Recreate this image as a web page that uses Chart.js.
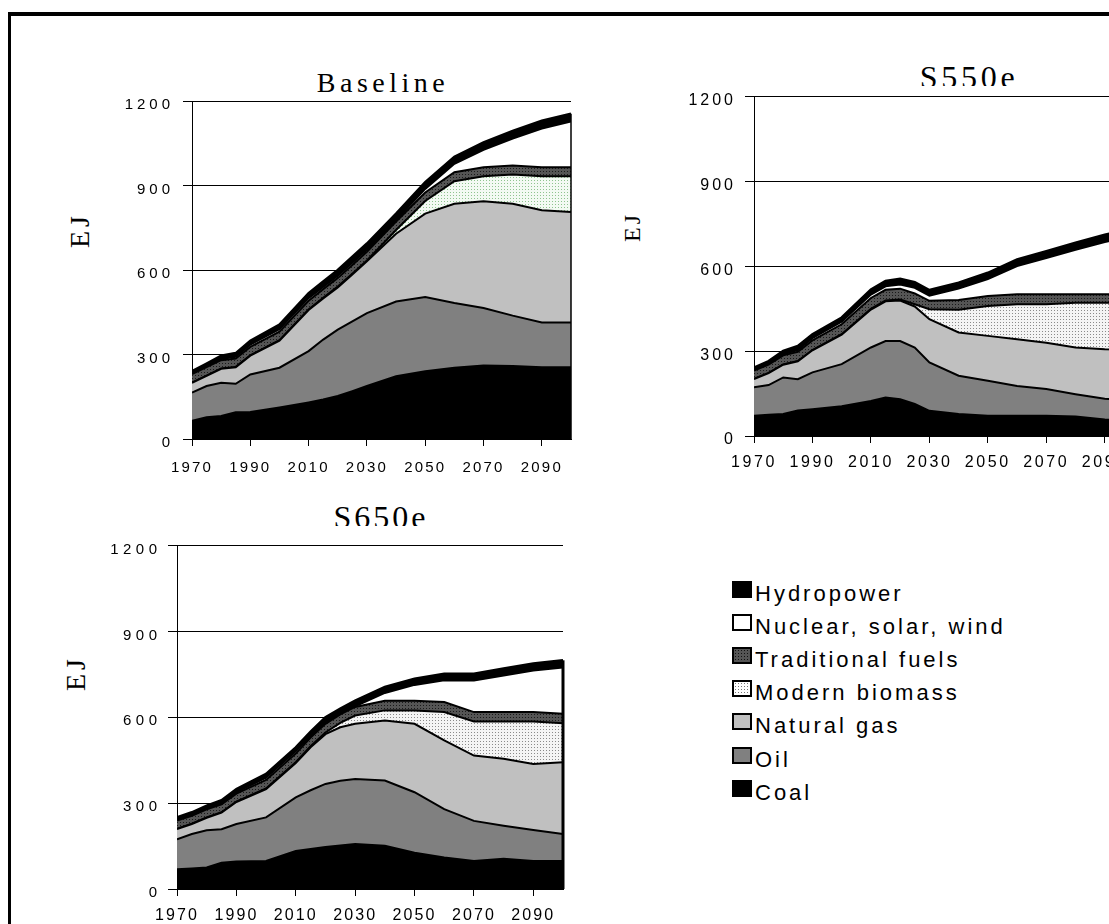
<!DOCTYPE html>
<html>
<head>
<meta charset="utf-8">
<title>Primary energy by source – Baseline, S550e, S650e</title>
<script src="https://cdn.jsdelivr.net/npm/chart.js@4.4.1/dist/chart.umd.min.js"></script>
<style>
  html, body { margin: 0; padding: 0; background: #fff; width: 1109px; height: 924px; overflow: hidden; }
  body { position: relative; font-family: 'Liberation Sans', Arial, sans-serif; color: #000; }
  .frame { position: absolute; left: 8px; top: 12px; width: 1300px; height: 1100px;
           border-left: 3px solid #000; border-top: 4px solid #000; }
  .box { position: absolute; }
  .ttl { position: absolute; font-family: 'Liberation Serif', 'Times New Roman', serif; line-height: 1;
         white-space: nowrap; transform: translateX(-50%); overflow: hidden; }
  .ej { position: absolute; font-family: 'Liberation Serif', 'Times New Roman', serif; line-height: 1;
        white-space: nowrap; transform: translate(-50%, -50%) rotate(-90deg); }
  .row { position: absolute; left: 732px; height: 22px; white-space: nowrap; }
  .sq { position: absolute; left: 0; top: -2px; width: 20px; height: 17px; box-sizing: border-box; border: 2px solid #000; }
  .lbl { position: absolute; left: 23px; top: 0; font-size: 22px; line-height: 22px; letter-spacing: 3px; }
  .hydro { background: #000; }
  .nuc { background: #fff; }
  .trad { background-color: #555; background-image: radial-gradient(#111 35%, transparent 40%); background-size: 3px 3px; }
  .bio { background-color: #fff; background-image: radial-gradient(#777 35%, transparent 40%); background-size: 3px 3px; }
  .gas { background: #c0c0c0; }
  .oil { background: #808080; }
  .coal { background: #000; }
</style>
</head>
<body>
<div class="frame"></div>

<div class="ttl" style="left:383px; top:69px; font-size:28px; letter-spacing:4.5px;">Baseline</div>
<div class="ttl" style="left:969px; top:61px; height:25px; font-size:32px; letter-spacing:3.75px;">S550e</div>
<div class="ttl" style="left:381px; top:501px; height:25px; font-size:32px; letter-spacing:3px;">S650e</div>

<div class="ej" style="left:80px; top:230px; font-size:28px; letter-spacing:4px;">EJ</div>
<div class="ej" style="left:632px; top:227px; font-size:24px; letter-spacing:3px;">EJ</div>
<div class="ej" style="left:76px; top:673px; font-size:28px; letter-spacing:4px;">EJ</div>

<div class="box" style="left:92px; top:83px; width:489px; height:396px;"><canvas id="base"></canvas></div>
<div class="box" style="left:654px; top:78px; width:490px; height:398px;"><canvas id="s550"></canvas></div>
<div class="box" style="left:77px; top:530px; width:496px; height:399px;"><canvas id="s650"></canvas></div>

<div id="legend"></div>

<script>
// ── data (EJ per source) ──────────────────────────────────────────────────
const years  = [1970, 1975, 1980, 1985, 1990, 2000, 2010, 2015, 2020, 2025, 2030, 2040, 2050, 2060, 2070, 2080, 2090, 2100];
const xTicks = [1970, 1990, 2010, 2030, 2050, 2070, 2090];
const yTicks = [0, 300, 600, 900, 1200];
const fuels  = ['Coal', 'Oil', 'Natural gas', 'Modern biomass', 'Traditional fuels', 'Nuclear, solar, wind', 'Hydropower'];

const baseCoal  = [65, 77, 82, 95, 96, 112, 130, 140, 153, 170, 188, 223, 241, 253, 261, 259, 255, 255];
const baseOil   = [100, 111, 118, 101, 133, 141, 182, 213, 235, 248, 259, 265, 263, 230, 204, 179, 159, 159];
const baseGas   = [34, 36, 49, 59, 67, 96, 146, 146, 150, 166, 184, 241, 296, 352, 379, 397, 398, 392];
const baseBio   = [1, 1, 1, 1, 1, 2, 2, 2, 3, 3, 3, 13, 45, 80, 89, 104, 121, 127];
const baseTrad  = [30, 30, 30, 30, 30, 30, 31, 31, 31, 31, 31, 30, 30, 32, 32, 32, 32, 32];
const baseNuc   = [1, 2, 4, 6, 8, 9, 9, 8, 8, 8, 7, 5, 13, 30, 62, 96, 137, 162];
const baseHydro = [10, 11, 12, 13, 14, 16, 18, 19, 20, 21, 22, 23, 24, 25, 26, 27, 28, 28];

const s550Coal  = [72, 75, 78, 90, 95, 105, 124, 136, 130, 113, 89, 78, 72, 72, 72, 69, 58, 55];
const s550Oil   = [100, 105, 129, 111, 130, 149, 189, 200, 206, 200, 171, 135, 123, 105, 94, 79, 74, 70];
const s550Gas   = [29, 42, 45, 63, 78, 104, 134, 140, 143, 145, 153, 153, 159, 165, 164, 165, 175, 180];
const s550Bio   = [1, 1, 1, 1, 1, 2, 3, 3, 4, 8, 35, 80, 106, 124, 136, 158, 164, 166];
const s550Trad  = [29, 29, 32, 33, 34, 35, 38, 38, 38, 38, 30, 35, 35, 35, 35, 30, 30, 30];
const s550Nuc   = [1, 2, 4, 6, 8, 9, 12, 12, 15, 20, 18, 40, 60, 100, 128, 157, 185, 207];
const s550Hydro = [10, 11, 12, 14, 14, 15, 18, 19, 20, 20, 20, 21, 22, 23, 24, 25, 26, 27];

const s650Coal  = [69, 72, 75, 92, 96, 98, 133, 140, 147, 152, 157, 151, 127, 110, 98, 106, 98, 98];
const s650Oil   = [105, 120, 130, 117, 131, 152, 187, 205, 220, 226, 227, 228, 211, 169, 140, 115, 108, 94];
const s650Gas   = [35, 35, 44, 58, 77, 99, 120, 150, 174, 187, 193, 210, 239, 240, 228, 234, 231, 251];
const s650Bio   = [1, 1, 1, 1, 1, 2, 3, 4, 6, 15, 29, 35, 47, 99, 119, 130, 148, 136];
const s650Trad  = [29, 28, 28, 28, 28, 30, 30, 30, 30, 30, 30, 34, 34, 35, 33, 33, 33, 33];
const s650Nuc   = [1, 2, 3, 4, 5, 8, 8, 6, 5, 2, 2, 27, 55, 76, 110, 128, 145, 162];
const s650Hydro = [10, 10, 10, 10, 11, 13, 14, 15, 18, 18, 20, 21, 22, 23, 24, 24, 25, 25];

// ── fills ─────────────────────────────────────────────────────────────────
function dots(bg, fg) {
  const c = document.createElement('canvas');
  c.width = c.height = 3;
  const g = c.getContext('2d');
  g.fillStyle = bg; g.fillRect(0, 0, 3, 3);
  g.fillStyle = fg; g.fillRect(1, 1, 1, 1);
  return g.createPattern(c, 'repeat');
}
const tradFill = dots('#555', '#1a1a1a');
const fillsFor = bio => ['#000', '#808080', '#c0c0c0', bio, tradFill, '#fff', '#000'];

// letter spacing for tick labels, per axis
const spacing = {
  id: 'spacing',
  beforeDraw(chart, args, opts) {
    ['x', 'y'].forEach(id => {
      const s = chart.scales[id];
      if (!s || s._spaced) return;
      const draw = s.drawLabels;
      s.drawLabels = function (area) {
        this.ctx.save();
        this.ctx.letterSpacing = (opts[id] || 0) + 'px';
        draw.call(this, area);
        this.ctx.restore();
      };
      s._spaced = true;
    });
  }
};

// closing outline on the right end of the stack
const edge = {
  id: 'edge',
  afterDatasetsDraw(chart, args, opts) {
    const { ctx, scales: { x, y } } = chart;
    const last = years.length - 1;
    const top = chart.data.datasets.reduce((sum, d) => sum + d.data[last].y, 0);
    const px = x.getPixelForValue(years[last]);
    ctx.save();
    ctx.strokeStyle = '#000';
    ctx.lineWidth = opts.width || 1.5;
    ctx.beginPath();
    ctx.moveTo(px, y.getPixelForValue(top));
    ctx.lineTo(px, y.getPixelForValue(0));
    ctx.stroke();
    ctx.restore();
  }
};

const Y_W = 100;

function scenario(id, series, bio, o) {
  const fills = fillsFor(bio);
  return new Chart(document.getElementById(id), {
    type: 'line',
    data: {
      datasets: fuels.map((name, i) => ({
        label: name,
        data: series[i].map((v, j) => ({ x: years[j], y: v })),
        backgroundColor: fills[i],
        borderColor: '#000',
        borderWidth: i === fuels.length - 1 ? 2.5 : 2,
        fill: i === 0 ? 'origin' : '-1',
        pointRadius: 0,
        tension: 0
      }))
    },
    plugins: [spacing, edge],
    options: {
      responsive: true,
      maintainAspectRatio: false,
      animation: false,
      events: [],
      layout: { autoPadding: false, padding: { top: 6, right: 10, left: 0, bottom: 0 } },
      plugins: {
        legend: { display: false },
        tooltip: { enabled: false },
        spacing: { x: o.xs, y: o.ys },
        edge: { width: o.ew }
      },
      scales: {
        x: {
          type: 'linear', min: 1970, max: 2100,
          afterBuildTicks: s => { s.ticks = xTicks.map(v => ({ value: v })); },
          afterFit: s => { s.height = 40; },
          grid: { drawOnChartArea: false, tickLength: 7, color: '#000' },
          border: { color: '#000', width: 1 },
          ticks: { color: '#000', font: { family: 'Liberation Sans', size: o.xf }, padding: o.xp,
                   maxRotation: 0, autoSkip: false, callback: v => String(v) }
        },
        y: {
          stacked: true, min: 0, max: 1200,
          afterBuildTicks: s => { s.ticks = yTicks.map(v => ({ value: v })); },
          afterFit: s => { s.width = Y_W; },
          grid: { color: '#000', lineWidth: 1, tickLength: 9 },
          border: { color: '#000', width: 1 },
          ticks: { color: '#000', font: { family: 'Liberation Sans', size: o.yf }, padding: o.yp,
                   labelOffset: 4, callback: v => String(v) }
        }
      }
    }
  });
}

scenario('base', [baseCoal, baseOil, baseGas, baseBio, baseTrad, baseNuc, baseHydro],
  dots('#f3faf3', '#8fc48f'), { xf: 15, xs: 2.2, xp: 13, yf: 15, ys: 4, yp: 9, ew: 1.5 });
scenario('s550', [s550Coal, s550Oil, s550Gas, s550Bio, s550Trad, s550Nuc, s550Hydro],
  dots('#f4f4f4', '#8a8a8a'), { xf: 16, xs: 2.6, xp: 10, yf: 16, ys: 3, yp: 9, ew: 2 });
scenario('s650', [s650Coal, s650Oil, s650Gas, s650Bio, s650Trad, s650Nuc, s650Hydro],
  dots('#f4f4f4', '#8a8a8a'), { xf: 16, xs: 2.1, xp: 10, yf: 15, ys: 4.5, yp: 6.5, ew: 3 });

// ── legend (top to bottom = top of stack first) ───────────────────────────
const legendKeys = ['coal', 'oil', 'gas', 'bio', 'trad', 'nuc', 'hydro'];
const legend = document.getElementById('legend');
fuels.slice().reverse().forEach((name, i) => {
  const row = document.createElement('div');
  row.className = 'row';
  row.style.top = (594 + 33.1 * i - 11) + 'px';
  row.innerHTML = '<span class="sq ' + legendKeys[fuels.length - 1 - i] + '"></span><span class="lbl"></span>';
  row.querySelector('.lbl').textContent = name;
  legend.appendChild(row);
});
</script>
</body>
</html>
